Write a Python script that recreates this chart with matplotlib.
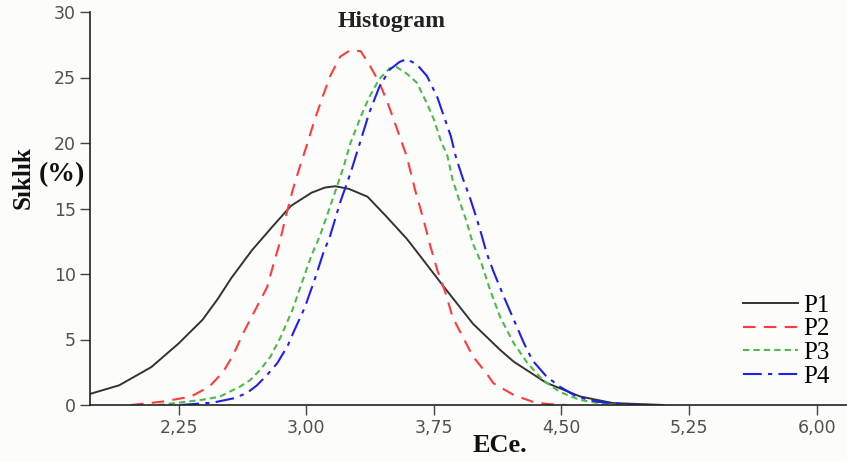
import matplotlib
matplotlib.use('Agg')
import matplotlib.pyplot as plt

# values (ECe vs frequency %)
p1_x = [1.73, 1.90, 2.09, 2.25, 2.39, 2.48, 2.56, 2.68, 2.80, 2.91, 3.03, 3.11, 3.17,
        3.25, 3.36, 3.47, 3.59, 3.65, 3.81, 3.98, 4.14, 4.22, 4.41, 4.61, 4.80, 5.10]
p1_y = [0.85, 1.5, 2.9, 4.7, 6.5, 8.1, 9.7, 11.8, 13.6, 15.2, 16.2, 16.6, 16.7,
        16.5, 15.9, 14.4, 12.7, 11.7, 9.0, 6.2, 4.2, 3.3, 1.7, 0.65, 0.15, 0.0]

p2_x = [1.97, 2.15, 2.32, 2.43, 2.51, 2.57, 2.63, 2.69, 2.77, 2.80, 2.84, 2.88, 2.92, 2.96,
        3.00, 3.05, 3.09, 3.14, 3.20, 3.26, 3.32, 3.37, 3.43, 3.48, 3.53, 3.59, 3.64, 3.69,
        3.73, 3.77, 3.82, 3.86, 3.92, 3.98, 4.06, 4.10, 4.22, 4.33, 4.41, 4.53]
p2_y = [0.0, 0.25, 0.63, 1.4, 2.5, 3.8, 5.5, 7.0, 9.0, 10.4, 12.2, 14.4, 16.4, 18.1,
        19.7, 21.8, 23.3, 25.1, 26.6, 27.1, 27.0, 26.0, 24.6, 23.0, 21.2, 19.0, 16.4, 14.1,
        12.1, 10.3, 8.5, 6.7, 5.2, 3.7, 2.4, 1.66, 0.76, 0.25, 0.08, 0.0]

p3_x = [2.13, 2.38, 2.49, 2.61, 2.67, 2.73, 2.79, 2.85, 2.92, 2.96, 3.03, 3.08, 3.16, 3.22,
        3.26, 3.32, 3.37, 3.43, 3.49, 3.53, 3.59, 3.65, 3.71, 3.75, 3.79, 3.83, 3.86, 3.90,
        3.94, 3.98, 4.03, 4.08, 4.14, 4.22, 4.30, 4.39, 4.49, 4.61, 4.75, 4.86]
p3_y = [0.0, 0.38, 0.63, 1.4, 1.9, 2.7, 3.7, 5.2, 7.3, 8.8, 11.4, 12.9, 15.9, 18.2,
        20.0, 22.0, 23.5, 24.9, 25.7, 25.8, 25.3, 24.6, 23.0, 21.8, 20.2, 19.0, 17.2, 15.6,
        14.1, 12.3, 10.8, 8.8, 6.7, 4.7, 3.2, 1.9, 1.0, 0.38, 0.08, 0.0]

p4_x = [2.26, 2.45, 2.57, 2.65, 2.71, 2.77, 2.83, 2.89, 2.93, 2.99, 3.05, 3.10, 3.14, 3.20,
        3.26, 3.32, 3.37, 3.43, 3.49, 3.55, 3.59, 3.65, 3.71, 3.77, 3.81, 3.85, 3.88, 3.92,
        3.96, 4.00, 4.03, 4.06, 4.10, 4.16, 4.22, 4.28, 4.33, 4.41, 4.49, 4.59, 4.71, 4.85, 4.94]
p4_y = [0.0, 0.18, 0.5, 0.9, 1.5, 2.3, 3.2, 4.5, 5.7, 7.4, 9.6, 11.6, 12.9, 15.5,
        17.7, 20.2, 22.3, 24.3, 25.6, 26.2, 26.4, 26.0, 25.1, 23.5, 22.0, 20.5, 18.9, 17.3,
        15.9, 14.3, 13.0, 11.6, 10.2, 8.3, 6.5, 4.7, 3.4, 2.2, 1.4, 0.63, 0.25, 0.08, 0.0]

x_ticks = [2.25, 3.00, 3.75, 4.50, 5.25, 6.00]
x_tick_labels = ['2,25', '3,00', '3,75', '4,50', '5,25', '6,00']
y_ticks = [0, 5, 10, 15, 20, 25, 30]
series_names = ['P1', 'P2', 'P3', 'P4']

bg = '#fcfcfa'
fig = plt.figure(figsize=(8.47, 4.62), dpi=100, facecolor=bg)
ax = fig.add_axes([90 / 847, 1 - 405 / 462, 1 - 90 / 847, (405 - 12) / 462])
ax.set_facecolor(bg)

ax.plot(p1_x, p1_y, color='#333333', lw=1.4, ls='-', label=series_names[0])
ax.plot(p2_x, p2_y, color='#ff3c3c', lw=1.5, ls=(0, (6, 4)), label=series_names[1])
ax.plot(p3_x, p3_y, color='#4cbb4c', lw=1.5, ls=(0, (3, 2)), label=series_names[2])
ax.plot(p4_x, p4_y, color='#2020ee', lw=1.5, ls=(0, (9, 3, 2, 3)), label=series_names[3])

ax.set_xlim(1.729, 6.178)
ax.set_ylim(0, 30)
ax.set_xticks(x_ticks)
ax.set_xticklabels(x_tick_labels)
ax.set_yticks(y_ticks)
for s in ['top', 'right']:
    ax.spines[s].set_visible(False)
for s in ['left', 'bottom']:
    ax.spines[s].set_color('#222222')
    ax.spines[s].set_linewidth(1.2)
ax.tick_params(direction='out', length=7, width=1, color='#444444',
               labelsize=12.5, labelcolor='#505050', pad=3)

serif = ['Liberation Serif', 'DejaVu Serif']
fig.text(392 / 847, 1 - 21 / 462, 'Histogram', family=serif, weight='bold',
         fontsize=17, ha='center', va='center', color='#222222')
fig.text(500 / 847, 1 - 445 / 462, 'ECe.', family=serif, weight='bold',
         fontsize=19, ha='center', va='center', color='#111111')
fig.text(23 / 847, 1 - 178 / 462, 'Sıklık', family=serif, weight='bold',
         fontsize=18, ha='center', va='center', rotation=90, color='#111111')
fig.text(62 / 847, 1 - 175 / 462, '(%)', family=serif, weight='bold',
         fontsize=20, ha='center', va='center', color='#111111')

leg = ax.legend(loc='center left', bbox_to_anchor=(743 / 847, 1 - 341 / 462),
                bbox_transform=fig.transFigure, frameon=False,
                prop={'family': serif, 'size': 18}, handlelength=2.2,
                handletextpad=0.2, labelspacing=0.05, borderpad=0, borderaxespad=0)

fig.savefig('out.png', dpi=100, facecolor=bg)
